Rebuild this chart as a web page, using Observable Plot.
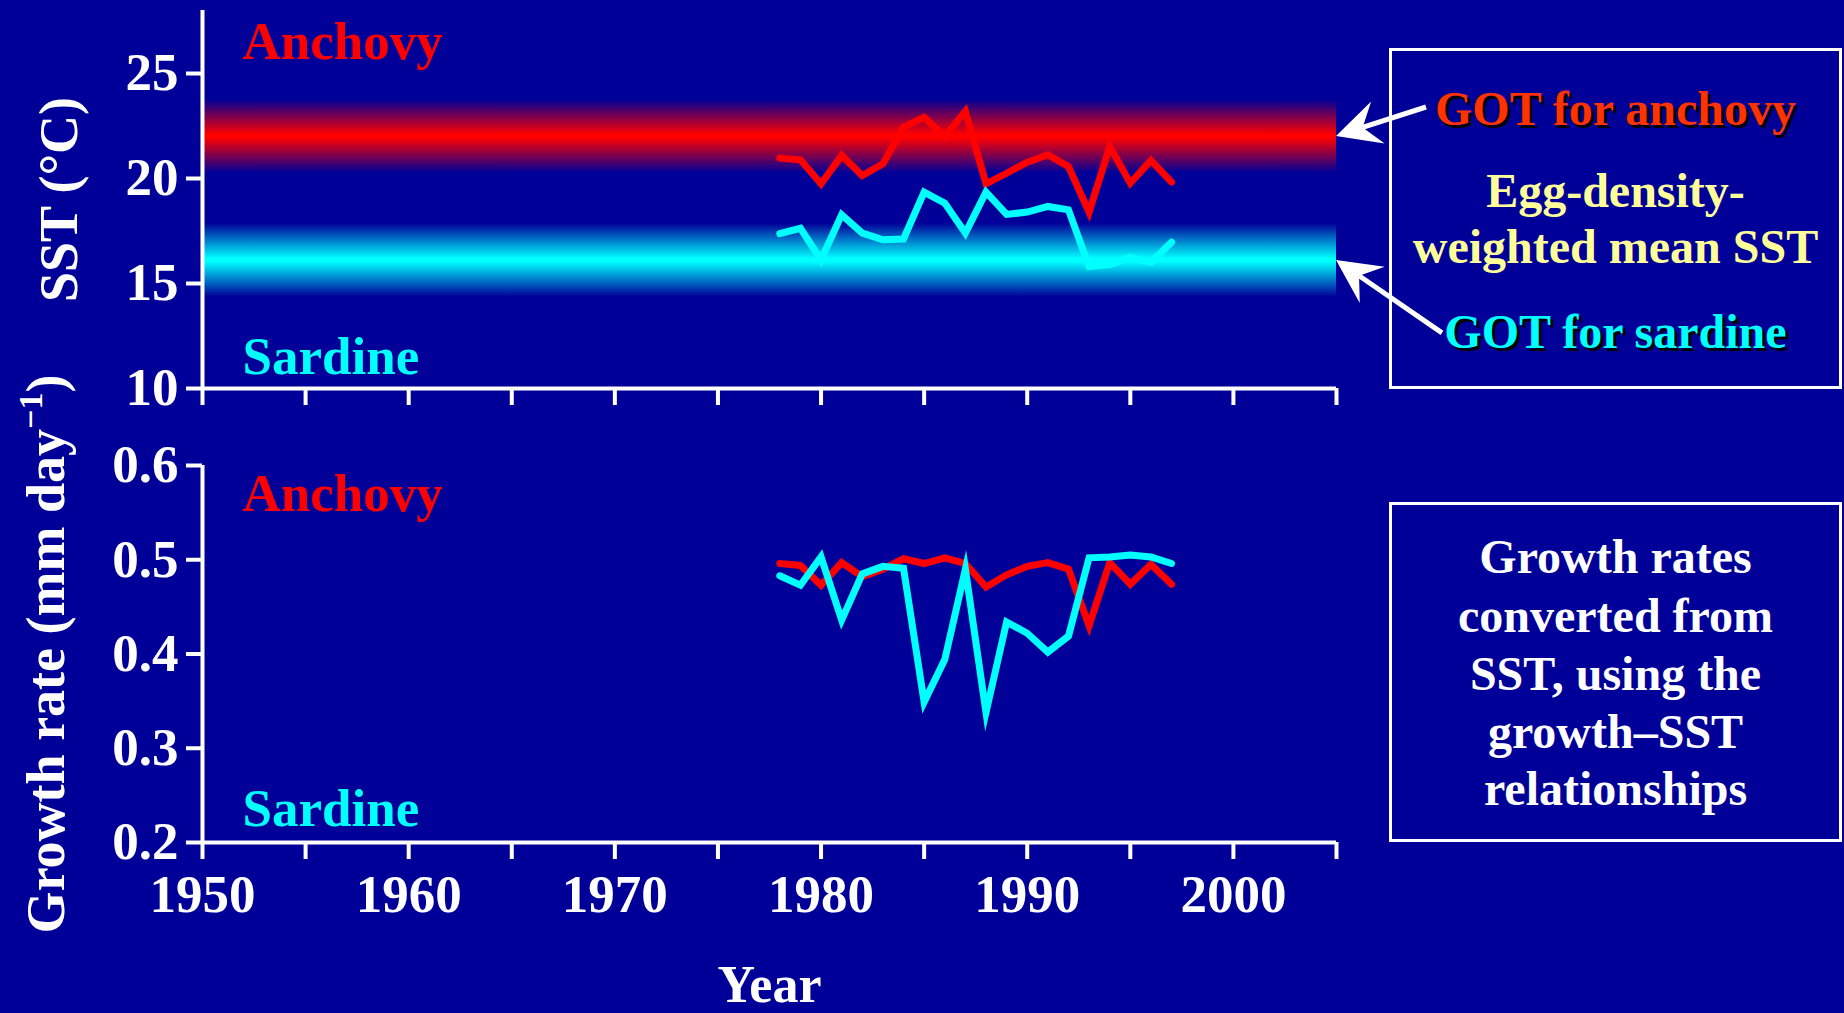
<!DOCTYPE html>
<html><head><meta charset="utf-8">
<script src="https://cdn.jsdelivr.net/npm/d3@7"></script>
<script src="https://cdn.jsdelivr.net/npm/@observablehq/plot@0.6"></script>
<style>
html,body{margin:0;padding:0;background:#000099;}
#wrap{position:relative;width:1844px;height:1013px;background:#000099;overflow:hidden;font-family:"Liberation Serif","Times New Roman",serif;font-weight:bold;}
#top,#bottom{position:absolute;left:0;}
#top{top:0;}
#bottom{top:420px;}
.box{position:absolute;left:1389px;width:453px;border:3px solid #fff;box-sizing:border-box;}
.ln{position:absolute;left:0;right:0;text-align:center;line-height:1;white-space:nowrap;}
</style></head>
<body>
<div id="wrap">
  <div id="top"></div>
  <div id="bottom"></div>
  <div class="box" id="box1" style="top:48px;height:341px;">
    <div class="ln" style="top:34px;font-size:48px;color:#ff3300;text-shadow:3px 3px 0 #000;">GOT for anchovy</div>
    <div class="ln" style="top:116px;font-size:48px;color:#ffff99;">Egg-density-</div>
    <div class="ln" style="top:172px;font-size:48px;color:#ffff99;">weighted mean SST</div>
    <div class="ln" style="top:257px;font-size:48px;color:#00ffff;text-shadow:3px 3px 0 #000;">GOT for sardine</div>
  </div>
  <div class="box" id="box2" style="top:502px;height:340px;color:#fff;">
    <div class="ln" style="top:28px;font-size:48px;">Growth rates</div>
    <div class="ln" style="top:87px;font-size:48px;">converted from</div>
    <div class="ln" style="top:145px;font-size:48px;">SST, using the</div>
    <div class="ln" style="top:203px;font-size:48px;">growth–SST</div>
    <div class="ln" style="top:260px;font-size:48px;">relationships</div>
  </div>
</div>
<script>
// ---- data ----
const years = [1978,1979,1980,1981,1982,1983,1984,1985,1986,1987,1988,1989,1990,1991,1992,1993,1994,1995,1996,1997];
const anchovySST = [20.97,20.89,19.75,21.10,20.14,20.70,22.44,22.92,22.00,23.20,19.75,20.25,20.78,21.13,20.57,18.40,21.52,19.78,20.86,19.83];
const sardineSST = [17.37,17.63,16.13,18.27,17.40,17.08,17.12,19.35,18.83,17.40,19.35,18.29,18.40,18.67,18.51,15.81,15.90,16.25,16.01,16.97];
const anchovyGrowth = [0.496,0.494,0.473,0.497,0.482,0.490,0.501,0.496,0.502,0.496,0.471,0.484,0.493,0.497,0.490,0.430,0.497,0.474,0.495,0.474];
const sardineGrowth = [0.483,0.473,0.503,0.436,0.485,0.493,0.491,0.349,0.394,0.490,0.338,0.434,0.422,0.402,0.419,0.502,0.503,0.505,0.503,0.496];
const gotAnchovy = 22.0;
const gotSardine = 16.1;
const gotSpread = 1.75;
const xDomain = [1950, 2005];
const sstDomain = [10, 28];
const growthDomain = [0.2, 0.6];
const sstTicks = [10, 15, 20, 25];
const growthTicks = [0.2, 0.3, 0.4, 0.5, 0.6];
const yearTicks = [1950,1955,1960,1965,1970,1975,1980,1985,1990,1995,2000,2005];
const yearLabels = [1950,1960,1970,1980,1990,2000];
const speciesNames = ["Anchovy", "Sardine"];
const sstTitle = "SST (°C)";
const growthTitle = "Growth rate (mm day";
const xTitle = "Year";

// ---- styles ----
const FONT = "Liberation Serif, Times New Roman, serif";
const RED = "#ff0000", CYAN = "#00ffff", BG = "#000099";
const LW = 7;
const styleObj = {background: "transparent", color: "white", fontFamily: FONT, fontWeight: "bold", fontSize: "53px", overflow: "visible"};

const sstRows = years.map((year, i) => ({year, anchovy: anchovySST[i], sardine: sardineSST[i]}));
const growthRows = years.map((year, i) => ({year, anchovy: anchovyGrowth[i], sardine: sardineGrowth[i]}));

const topPlot = Plot.plot({
  width: 1844, height: 420,
  marginLeft: 202, marginRight: 508, marginTop: 10, marginBottom: 32,
  x: {domain: xDomain},
  y: {domain: sstDomain},
  style: styleObj,
  marks: [
    Plot.rect([{y1: gotAnchovy - gotSpread, y2: gotAnchovy + gotSpread}], {x1: xDomain[0], x2: xDomain[1], y1: "y1", y2: "y2", fill: "url(#gradRed)"}),
    Plot.rect([{y1: gotSardine - gotSpread, y2: gotSardine + gotSpread}], {x1: xDomain[0], x2: xDomain[1], y1: "y1", y2: "y2", fill: "url(#gradCyan)"}),
    Plot.ruleX([xDomain[0]], {stroke: "white", strokeWidth: 4}),
    Plot.ruleY([sstDomain[0]], {stroke: "white", strokeWidth: 4}),
    Plot.axisY({ticks: sstTicks, tickSize: 16, tickPadding: 8, strokeWidth: 4, label: null, fontSize: 53}),
    Plot.axisX({ticks: yearTicks, tickSize: 17, strokeWidth: 4, tickFormat: () => "", label: null}),
    Plot.line(sstRows, {x: "year", y: "anchovy", stroke: RED, strokeWidth: LW, strokeLinejoin: "miter", strokeMiterlimit: 10}),
    Plot.line(sstRows, {x: "year", y: "sardine", stroke: CYAN, strokeWidth: LW, strokeLinejoin: "miter", strokeMiterlimit: 10}),
    Plot.text([speciesNames[0]], {text: d => d, frameAnchor: "top-left", textAnchor: "start", lineAnchor: "bottom", dx: 40, dy: 48, fill: RED, fontSize: 53}),
    Plot.text([speciesNames[1]], {text: d => d, frameAnchor: "bottom-left", textAnchor: "start", lineAnchor: "bottom", dx: 40, dy: -15, fill: CYAN, fontSize: 53}),
    Plot.text([sstTitle], {text: d => d, frameAnchor: "left", textAnchor: "middle", lineAnchor: "middle", rotate: -90, dx: -143, fill: "white", fontSize: 54})
  ]
});

const bottomPlot = Plot.plot({
  width: 1844, height: 593,
  marginLeft: 202, marginRight: 508, marginTop: 45, marginBottom: 171,
  x: {domain: xDomain},
  y: {domain: growthDomain},
  style: styleObj,
  marks: [
    Plot.ruleX([xDomain[0]], {stroke: "white", strokeWidth: 4}),
    Plot.ruleY([growthDomain[0]], {stroke: "white", strokeWidth: 4}),
    Plot.axisY({ticks: growthTicks, tickSize: 16, tickPadding: 8, strokeWidth: 4, label: null, tickFormat: d3.format(".1f"), fontSize: 53}),
    Plot.axisX({ticks: yearTicks, tickSize: 17, tickPadding: 15, strokeWidth: 4, label: null, fontSize: 53,
      tickFormat: d => yearLabels.includes(d) ? String(d) : ""}),
    Plot.line(growthRows, {x: "year", y: "anchovy", stroke: RED, strokeWidth: LW, strokeLinejoin: "miter", strokeMiterlimit: 10}),
    Plot.line(growthRows, {x: "year", y: "sardine", stroke: CYAN, strokeWidth: LW, strokeLinejoin: "miter", strokeMiterlimit: 10}),
    Plot.text([speciesNames[0]], {text: d => d, frameAnchor: "top-left", textAnchor: "start", lineAnchor: "bottom", dx: 40, dy: 45, fill: RED, fontSize: 53}),
    Plot.text([speciesNames[1]], {text: d => d, frameAnchor: "bottom-left", textAnchor: "start", lineAnchor: "bottom", dx: 40, dy: -17, fill: CYAN, fontSize: 53}),
    Plot.text([xTitle], {text: d => d, frameAnchor: "bottom", textAnchor: "middle", lineAnchor: "bottom", dy: 159, fill: "white", fontSize: 52}),
    Plot.text([growthTitle], {text: d => d, frameAnchor: "left", textAnchor: "middle", lineAnchor: "middle", rotate: -90, dx: -156, fill: "white", fontSize: 54})
  ]
});

document.getElementById("top").appendChild(topPlot);
document.getElementById("bottom").appendChild(bottomPlot);

// gradients for the GOT bands
const defs = d3.select(topPlot).insert("defs", ":first-child");
function addGrad(id, color) {
  const g = defs.append("linearGradient").attr("id", id).attr("x1", 0).attr("y1", 0).attr("x2", 0).attr("y2", 1);
  g.append("stop").attr("offset", "0%").attr("stop-color", BG);
  g.append("stop").attr("offset", "48%").attr("stop-color", color);
  g.append("stop").attr("offset", "52%").attr("stop-color", color);
  g.append("stop").attr("offset", "100%").attr("stop-color", BG);
}
addGrad("gradRed", RED);
addGrad("gradCyan", CYAN);

// superscript in growth title
d3.select(bottomPlot).selectAll("text").filter(function() { return this.textContent === growthTitle; }).each(function() {
  const t = d3.select(this);
  t.append("tspan").attr("dy", -22).attr("font-size", 34).text("−1");
  t.append("tspan").attr("dy", 22).text(")");
});

// annotation arrows from the boxes to the GOT values
const sx = topPlot.scale("x"), sy = topPlot.scale("y");
const arrowSpecs = [
  {value: gotAnchovy, tail: [90, -29]},
  {value: gotSardine, tail: [106, 73]}
];
const ag = d3.select(topPlot).append("g").attr("fill", "white").attr("stroke", "white");
for (const a of arrowSpecs) {
  const tx = sx.apply(xDomain[1]), ty = sy.apply(a.value);
  const px = tx + a.tail[0], py = ty + a.tail[1];
  const len = Math.hypot(px - tx, py - ty);
  const ux = (tx - px) / len, uy = (ty - py) / len;
  const nx = -uy, ny = ux;
  const L = 44, W = 22, N = 28;
  const bx = tx - ux * L, by = ty - uy * L;
  const mx = tx - ux * N, my = ty - uy * N;
  ag.append("line").attr("x1", px).attr("y1", py).attr("x2", mx).attr("y2", my).attr("stroke-width", 5).attr("fill", "none");
  ag.append("path").attr("stroke", "none")
    .attr("d", `M${tx},${ty}L${bx + nx * W},${by + ny * W}L${mx},${my}L${bx - nx * W},${by - ny * W}Z`);
}
</script>
</body></html>
